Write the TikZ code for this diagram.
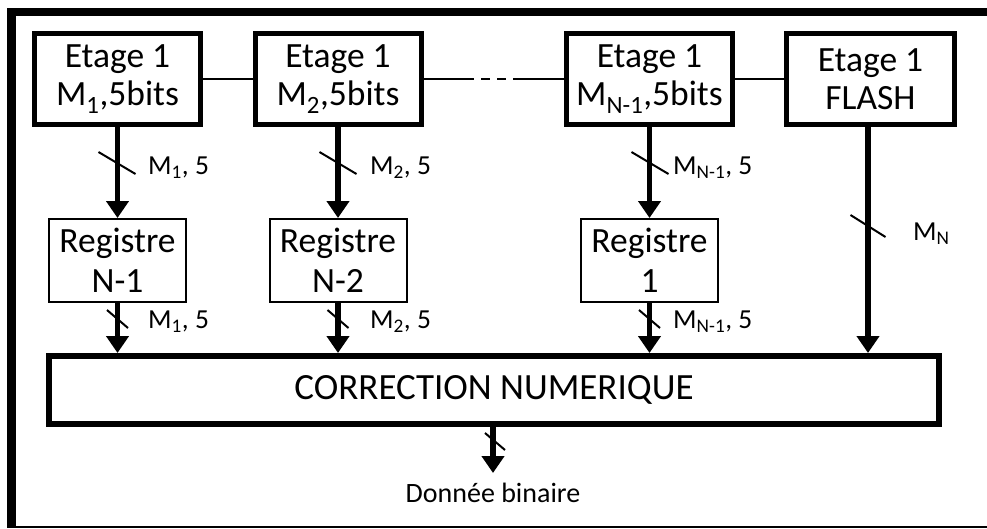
\documentclass[tikz,border=0pt]{standalone}
\usepackage{fontspec}
\setmainfont{Carlito}
\usetikzlibrary{arrows.meta}

\tikzset{
  stagebox/.style={draw, line width=5pt, minimum width=166pt, minimum height=91pt,
    inner sep=0pt, align=center, font=\fontsize{35.5}{38.5}\selectfont},
  regbox/.style={draw, line width=2pt, minimum width=137pt, minimum height=83pt,
    inner sep=0pt, align=center, font=\fontsize{35.5}{40.5}\selectfont},
  corrbox/.style={draw, line width=6pt, minimum width=890pt, minimum height=68pt,
    inner sep=0pt, font=\fontsize{37}{40}\selectfont},
  link/.style={line width=2pt},
  bus/.style={line width=5.5pt, -{Triangle[width=22pt,length=17pt]}},
  tick/.style={line width=2pt},
  buslabel/.style={anchor=west, inner sep=0pt, font=\fontsize{27.5}{30}\selectfont},
}

\begin{document}
\begin{tikzpicture}[x=1pt, y=-1pt]
  \useasboundingbox (0,0) rectangle (987,528);

  % outer frame (open on the right)
  \draw[line width=8pt] (7,12) -- (987,12);
  \draw[line width=9pt] (11.5,8) -- (11.5,528);
  \draw[line width=2pt] (7,526.5) -- (987,526.5);

  % first-stage converters
  \node[stagebox] (s1) at (117.5,79) {Etage 1\\M\textsubscript{1},5bits};
  \node[stagebox] (s2) at (338,79)   {Etage 1\\M\textsubscript{2},5bits};
  \node[stagebox] (s3) at (649.5,79) {Etage 1\\M\textsubscript{N-1},5bits};
  \node[stagebox, minimum width=168pt] (s4) at (870.5,79) {Etage 1\\FLASH};

  % chain between stages
  \coordinate (d1) at (465,79);
  \coordinate (d2) at (520,79);
  \draw[link] (s1.east) -- (s2.west);
  \draw[link] (s2.east) -- (d1);
  \draw[link, dash pattern=on 9pt off 7pt] (d1) -- (d2);
  \draw[link] (d2) -- (s3.west);
  \draw[link] (s3.east) -- (s4.west);

  % registers
  \node[regbox] (r1) at (117.5,260.5) {Registre\\N-1};
  \node[regbox] (r2) at (338,260.5)   {Registre\\N-2};
  \node[regbox] (r3) at (649.5,260.5) {Registre\\1};

  % digital correction
  \node[corrbox] (corr) at (494,390) {CORRECTION NUMERIQUE};

  % stage -> register buses
  \draw[bus] (s1.south) -- (r1.north);
  \draw[bus] (s2.south) -- (r2.north);
  \draw[bus] (s3.south) -- (r3.north);
  \draw[tick] (98.5,152) -- (135.5,174);
  \draw[tick] (319.5,152) -- (356.5,174);
  \draw[tick] (631.5,152) -- (668.5,174);
  \node[buslabel] (l1) at (148,168) {M\textsubscript{1}, 5};
  \node[buslabel] (l2) at (370,168) {M\textsubscript{2}, 5};
  \node[buslabel] (l3) at (673,168) {M\textsubscript{N-1}, 5};

  % register -> correction buses
  \draw[bus] (r1.south) -- (r1.south |- corr.north);
  \draw[bus] (r2.south) -- (r2.south |- corr.north);
  \draw[bus] (r3.south) -- (r3.south |- corr.north);
  \draw[tick] (107,310) -- (128,328);
  \draw[tick] (327.5,310) -- (348.5,328);
  \draw[tick] (639,310) -- (660,328);
  \node[buslabel] (l4) at (148,322) {M\textsubscript{1}, 5};
  \node[buslabel] (l5) at (370,322) {M\textsubscript{2}, 5};
  \node[buslabel] (l6) at (673,322) {M\textsubscript{N-1}, 5};

  % flash -> correction bus
  \coordinate (fx) at (868,127);
  \draw[bus] (fx) -- (fx |- corr.north);
  \draw[tick] (850.5,215) -- (885.5,237);
  \node[buslabel] (l7) at (913,234) {M\textsubscript{N}};

  % output
  \coordinate (out) at (493,473);
  \draw[bus] (corr.south -| out) -- (out);
  \draw[tick] (485,433) -- (505,450);
  \node[font=\fontsize{28}{30}\selectfont, inner sep=0pt] (res) at (493,493) {Donnée binaire};
\end{tikzpicture}
\end{document}
